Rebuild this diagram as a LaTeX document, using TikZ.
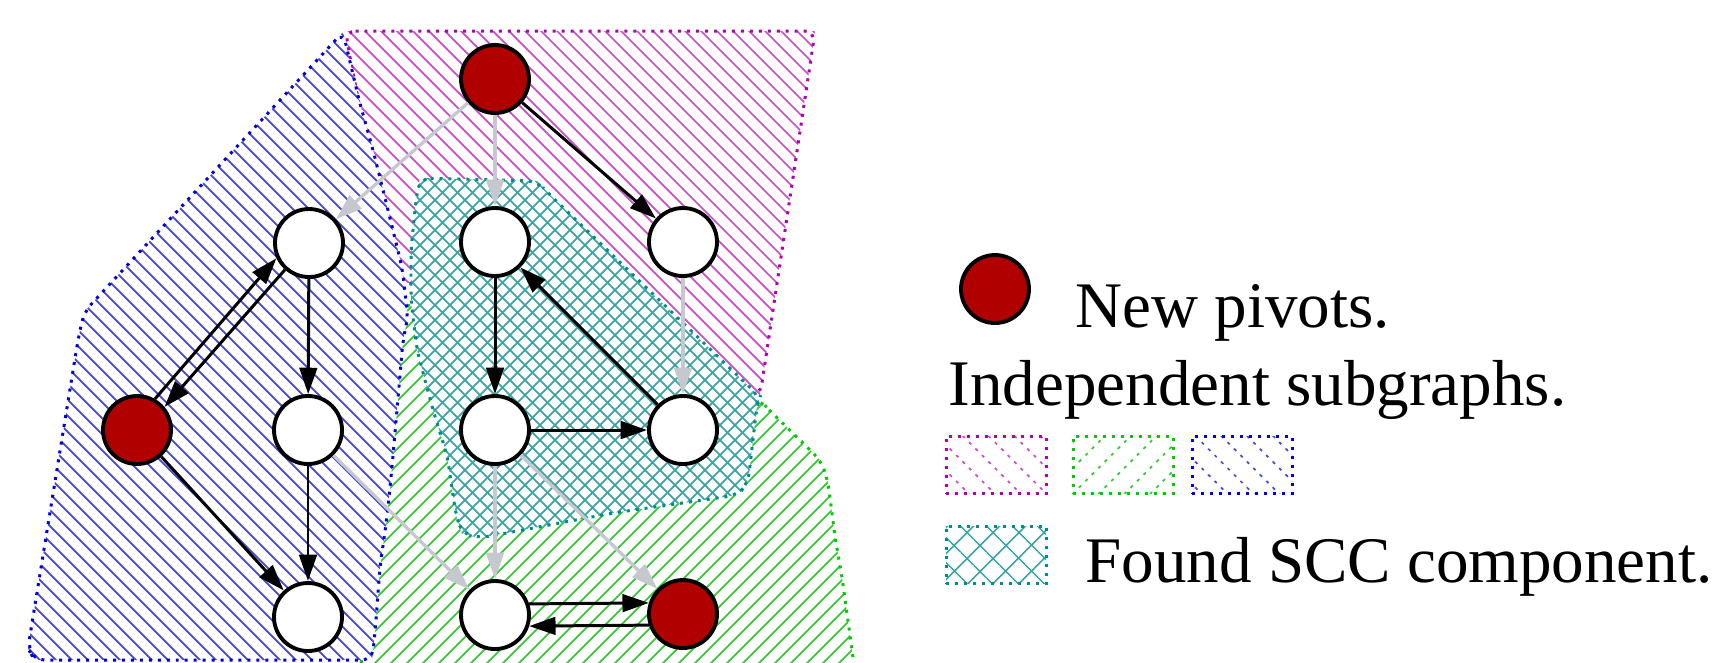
\documentclass[tikz,border=0pt]{standalone}
\usepackage{fontspec}
\setmainfont{Liberation Serif}
\usetikzlibrary{arrows.meta, patterns.meta}
\definecolor{pivred}{HTML}{B00000}
\definecolor{edgegray}{HTML}{C6C8D0}
\definecolor{magline}{HTML}{B000B0}
\definecolor{maghatch}{HTML}{C850C8}
\definecolor{blueline}{HTML}{0000D8}
\definecolor{bluehatch}{HTML}{4848D0}
\definecolor{greenline}{HTML}{00CC00}
\definecolor{greenhatch}{HTML}{38C838}
\definecolor{sccline}{HTML}{008C8C}
\definecolor{scchatch}{HTML}{40A4A4}
\newcommand{\greenarea}{(388,300) -- (760,400) -- (772,413) -- (800,440) -- (822,462) -- (828,482) -- (835,537) -- (842,577) -- (852,650) -- (856,680) -- (360,680) -- cycle}
\newcommand{\magarea}{(345,31) -- (815,31) -- (812,52) -- (760,396) -- (420,285) -- (393,280) -- cycle}
\newcommand{\bluearea}{(343,32) -- (84,312) -- (78,340) -- (28,648) -- (34,660) -- (372,660) -- (375,633) -- (380,567) -- (387,517) -- (392,467) -- (397,410) -- (403,340) -- (408,317) -- (402,267) -- (388,210) -- (373,150) -- (359,100) -- cycle}
\newcommand{\sccarea}{(420,178) -- (537,181) -- (550,195) -- (760,397) -- (757,405) -- (748,483) -- (738,495) -- (613,513) -- (480,538) -- (462,534) -- (456,515) -- (447,455) -- (433,410) -- (417,350) -- (411,300) -- (411,250) -- (416,200) -- cycle}

\begin{document}
\begin{tikzpicture}[
  x=0.1mm, y=-0.1mm,
  vertex/.style={circle, draw, line width=1.1pt, fill=white, minimum size=6.8mm, inner sep=0pt},
  pivot/.style={vertex, fill=pivred},
  link/.style={-{Triangle[length=7.5pt, width=5pt]}, line width=0.85pt},
  greylink/.style={link, edgegray, line width=0.95pt},
  zone/.style={line width=0.85pt, dash pattern=on 0.85pt off 1.7pt, rounded corners=3pt},
  hatch/.style={line width=0.5pt},
  legbox/.style={zone, sharp corners, minimum width=10mm, minimum height=5.7mm, inner sep=0pt, fill=white},
  legend/.style={font=\fontsize{18.5}{22}\selectfont, inner sep=0pt, anchor=base west},
]
\useasboundingbox (0,0) rectangle (1716,662);
\clip (0,0) rectangle (1716,662);

\fill[white] \greenarea;
\begin{scope}
  \clip \greenarea;
  \foreach \k in {350,366,...,1560} \draw[hatch, greenhatch] (\k,0) -- ++(-700,700);
\end{scope}
\draw[zone, greenline] \greenarea;

\fill[white] \magarea;
\begin{scope}
  \clip \magarea;
  \foreach \k in {-450,-434,...,820} \draw[hatch, maghatch] (\k,0) -- ++(700,700);
\end{scope}
\draw[zone, magline] \magarea;

\fill[white] \bluearea;
\begin{scope}
  \clip \bluearea;
  \foreach \k in {-700,-684,...,420} \draw[hatch, bluehatch] (\k,0) -- ++(700,700);
\end{scope}
\draw[zone, blueline] \bluearea;

\fill[white] \sccarea;
\begin{scope}
  \clip \sccarea;
  \foreach \k in {-350,-335,...,760} \draw[hatch, scchatch] (\k,0) -- ++(700,700);
  \foreach \k in {410,425,...,1300} \draw[hatch, scchatch] (\k,0) -- ++(-700,700);
\end{scope}
\draw[zone, sccline] \sccarea;

\node[pivot] (pivtop) at (495,79) {};
\node[vertex] (left1) at (309,243) {};
\node[vertex] (mid1) at (495,242) {};
\node[vertex] (right1) at (683,242) {};
\node[pivot] (pivleft) at (137,430) {};
\node[vertex] (left2) at (308,430) {};
\node[vertex] (mid2) at (495,430) {};
\node[vertex] (right2) at (683,430) {};
\node[vertex] (left3) at (308,617) {};
\node[vertex] (mid3) at (495,615) {};
\node[pivot] (pivright) at (683,614) {};

\draw[greylink] (pivtop) -- (left1);
\draw[greylink] (pivtop) -- (mid1);
\draw[link] (pivtop) -- (right1);
\draw[link] (pivleft.60) -- (left1.205);
\draw[link] (left1.228) -- (pivleft.40);
\draw[link] (left1) -- (left2);
\draw[link] (left2) -- (left3);
\draw[link] (pivleft) -- (left3);
\draw[link] (mid1) -- (mid2);
\draw[link] (right2) -- (mid1);
\draw[link] (mid2) -- (right2);
\draw[greylink] (right1) -- (right2);
\draw[greylink] (left2) -- (mid3);
\draw[greylink] (mid2) -- (mid3);
\draw[greylink] (mid2) -- (pivright);
\draw[link] (mid3.18) -- (pivright.162);
\draw[link] (pivright.198) -- (mid3.-18);

\node[pivot] (legpiv) at (995,289) {};
\node[legend] (legpivtxt) at (1075,327) {New pivots.};
\node[legend] (legsubtxt) at (948,405) {Independent subgraphs.};
\node[legbox, draw=magline, pattern={Lines[angle=-45, distance=5.2pt, line width=0.5pt]}, pattern color=maghatch] (legmag) at (996,465) {};
\node[legbox, draw=greenline, pattern={Lines[angle=45, distance=5.2pt, line width=0.5pt]}, pattern color=greenhatch] (leggreen) at (1123,465) {};
\node[legbox, draw=blueline, pattern={Lines[angle=-45, distance=5.2pt, line width=0.5pt]}, pattern color=bluehatch] (legblue) at (1242,465) {};
\node[legbox, draw=sccline, pattern={Hatch[angle=45, distance=5.4pt, line width=0.5pt]}, pattern color=scchatch] (legscc) at (996,555) {};
\node[legend] (legscctxt) at (1085,582) {Found SCC component.};
\end{tikzpicture}
\end{document}
